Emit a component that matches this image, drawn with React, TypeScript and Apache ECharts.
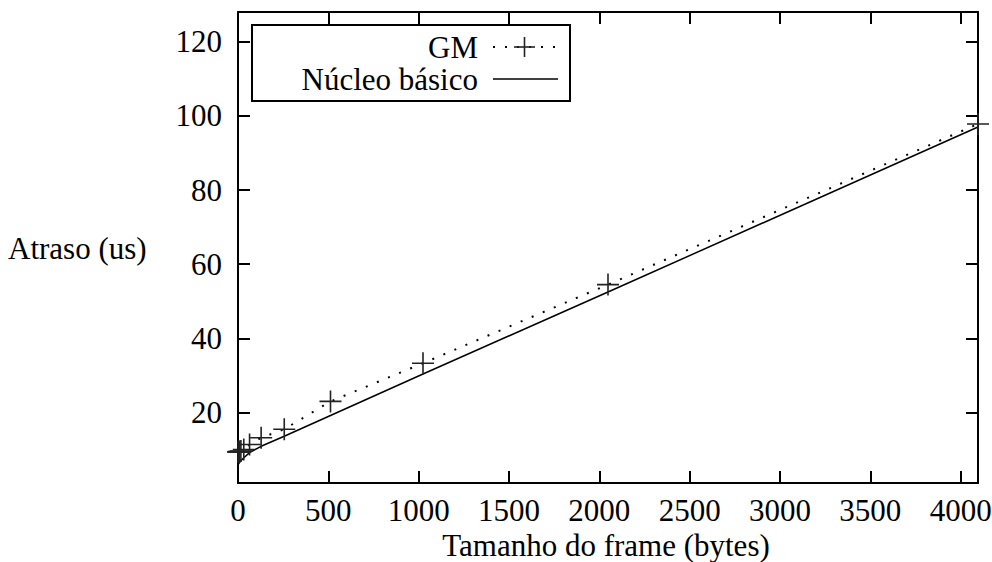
import React, { useEffect, useRef } from "react";
import * as echarts from "echarts";

const frameSizes = [1, 2, 4, 8, 16, 32, 64, 128, 256, 512, 1024, 2048, 4096];
const gmValues = [9.4, 9.4, 9.5, 9.5, 9.6, 10.0, 11.4, 13.2, 15.5, 23.0, 33.3, 54.5, 97.8];
const basicValues = [6.0, 6.1, 6.2, 6.5, 7.0, 7.8, 9.2, 10.9, 13.6, 19.2, 30.4, 52.5, 97.0];
const xTicks = [0, 500, 1000, 1500, 2000, 2500, 3000, 3500, 4000];
const yTicks = [20, 40, 60, 80, 100, 120];

const FONT = "'Liberation Serif', 'Times New Roman', Times, 'DejaVu Serif', serif";
const FS = 31;

export default function App() {
  const ref = useRef<HTMLDivElement>(null);
  useEffect(() => {
    if (!ref.current) return;
    const chart = echarts.init(ref.current, undefined, { renderer: "svg" });
    const axisCommon = {
      type: "value" as const,
      axisLine: { show: true, onZero: false, lineStyle: { color: "#000", width: 2 } },
      splitLine: { show: false },
    };
    const labelStyle = { fontFamily: FONT, fontSize: FS, color: "#000" };
    const plain = (v: number) => String(v);
    chart.setOption({
      animation: false,
      backgroundColor: "#fff",
      grid: { left: 238, right: 14, top: 12, bottom: 79, containLabel: false, outerBoundsMode: "none" },
      xAxis: [
        {
          ...axisCommon,
          position: "bottom",
          min: 0,
          max: 4096,
          axisTick: { inside: true, length: 12, customValues: xTicks, lineStyle: { color: "#000", width: 2 } },
          axisLabel: { ...labelStyle, margin: 12, customValues: xTicks, formatter: plain },
        },
        {
          ...axisCommon,
          position: "top",
          min: 0,
          max: 4096,
          axisTick: { inside: true, length: 12, customValues: xTicks, lineStyle: { color: "#000", width: 2 } },
          axisLabel: { show: false },
        },
      ],
      yAxis: [
        {
          ...axisCommon,
          position: "left",
          min: 1,
          max: 128,
          axisTick: { inside: true, length: 12, customValues: yTicks, lineStyle: { color: "#000", width: 2 } },
          axisLabel: { ...labelStyle, margin: 16, customValues: yTicks, formatter: plain },
        },
        {
          ...axisCommon,
          position: "right",
          min: 1,
          max: 128,
          axisTick: { inside: true, length: 12, customValues: yTicks, lineStyle: { color: "#000", width: 2 } },
          axisLabel: { show: false },
        },
      ],
      series: [
        {
          name: "GM",
          type: "line",
          data: frameSizes.map((x, i) => [x, gmValues[i]]),
          symbol: "path://M0,10L20,10M10,0L10,20",
          symbolSize: 22,
          showAllSymbol: true,
          itemStyle: { color: "none", borderColor: "#222", borderWidth: 1.6 },
          lineStyle: { color: "#000", width: 2, type: [2, 10], cap: "butt" },
          z: 3,
        },
        {
          name: "Núcleo básico",
          type: "line",
          data: frameSizes.map((x, i) => [x, basicValues[i]]),
          symbol: "none",
          lineStyle: { color: "#000", width: 1.5 },
          z: 2,
        },
      ],
      graphic: [
        {
          type: "text",
          left: 8,
          top: 233,
          style: { text: "Atraso (us)", fontFamily: FONT, fontSize: FS, fill: "#000" },
        },
        {
          type: "text",
          x: 606,
          y: 545,
          style: { text: "Tamanho do frame (bytes)", fontFamily: FONT, fontSize: FS, fill: "#000", align: "center", verticalAlign: "middle" },
        },
        {
          type: "rect",
          shape: { x: 252, y: 25, width: 318, height: 76 },
          style: { fill: "#fff", stroke: "#000", lineWidth: 2 },
          z: 10,
        },
        {
          type: "text",
          x: 478,
          y: 47,
          style: { text: "GM", fontFamily: FONT, fontSize: FS, fill: "#000", align: "right", verticalAlign: "middle" },
          z: 11,
        },
        {
          type: "text",
          x: 478,
          y: 79,
          style: { text: "Núcleo básico", fontFamily: FONT, fontSize: FS, fill: "#000", align: "right", verticalAlign: "middle" },
          z: 11,
        },
        {
          type: "line",
          shape: { x1: 493, y1: 47, x2: 560, y2: 47 },
          style: { stroke: "#000", lineWidth: 2, lineDash: [2, 10] },
          z: 11,
        },
        {
          type: "line",
          shape: { x1: 514, y1: 47, x2: 535, y2: 47 },
          style: { stroke: "#222", lineWidth: 1.6 },
          z: 11,
        },
        {
          type: "line",
          shape: { x1: 524.5, y1: 37, x2: 524.5, y2: 57 },
          style: { stroke: "#222", lineWidth: 1.6 },
          z: 11,
        },
        {
          type: "line",
          shape: { x1: 493, y1: 79, x2: 558, y2: 79 },
          style: { stroke: "#000", lineWidth: 1.5 },
          z: 11,
        },
      ],
    });
    return () => chart.dispose();
  }, []);
  return <div ref={ref} style={{ width: 992, height: 562, position: "absolute", left: 0, top: 0 }} />;
}
